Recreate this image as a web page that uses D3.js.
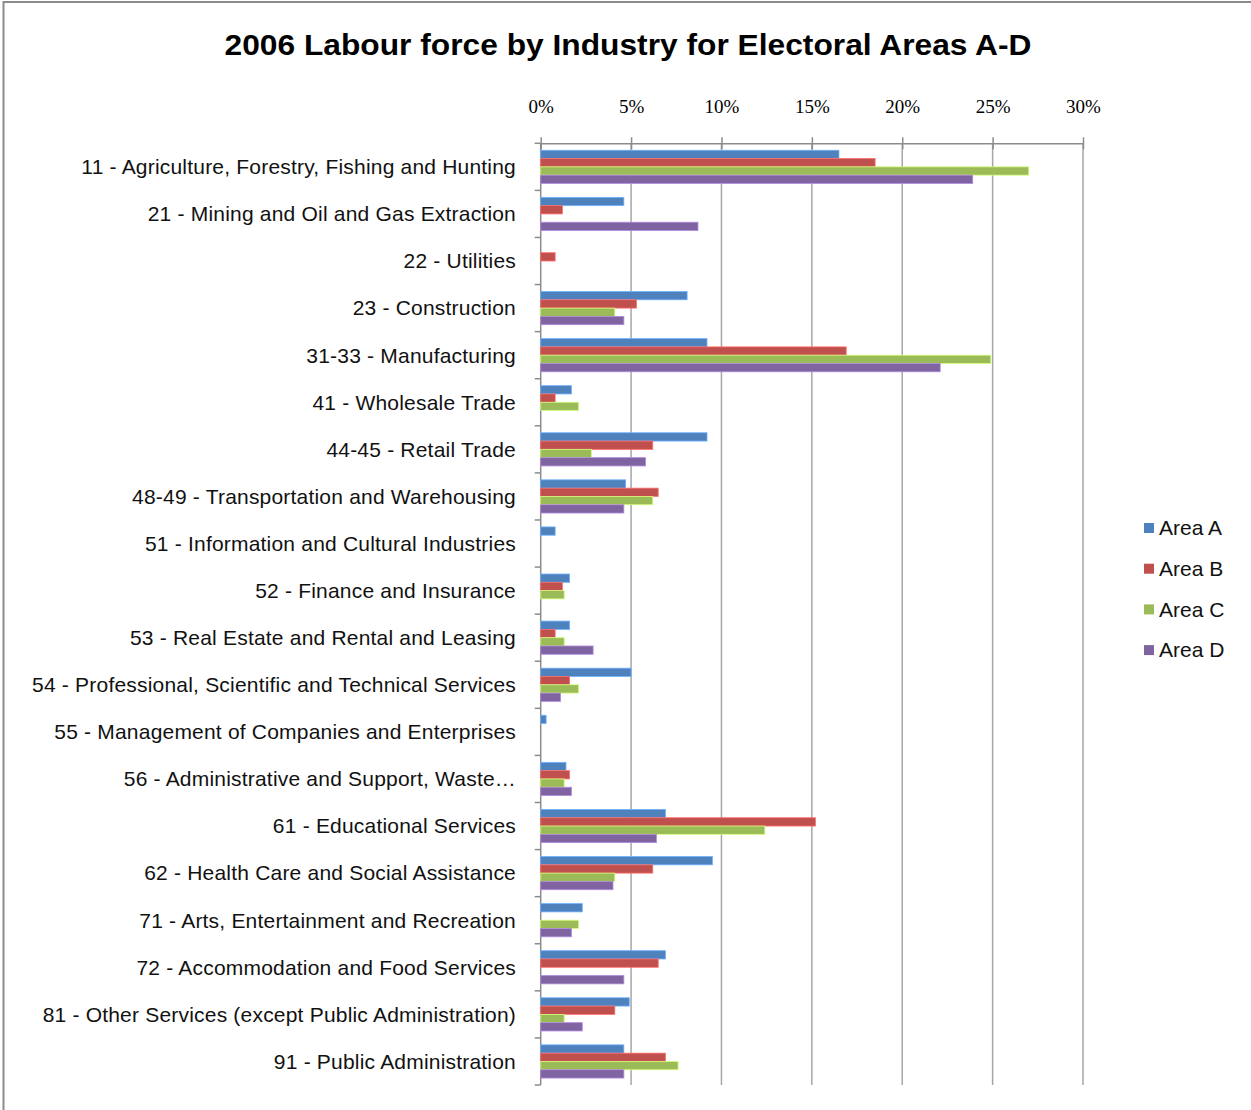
<!DOCTYPE html>
<html>
<head>
<meta charset="utf-8">
<script src="https://cdn.jsdelivr.net/npm/d3@7"></script>
<style>
  body { margin: 0; background: #fff; }
  svg { display: block; }
</style>
</head>
<body>
<div id="chart"></div>
<script>
// industries, top to bottom
const industries = [
    '11 - Agriculture, Forestry, Fishing and Hunting',
    '21 - Mining and Oil and Gas Extraction',
    '22 - Utilities',
    '23 - Construction',
    '31-33 - Manufacturing',
    '41 - Wholesale Trade',
    '44-45 - Retail Trade',
    '48-49 - Transportation and Warehousing',
    '51 - Information and Cultural Industries',
    '52 - Finance and Insurance',
    '53 - Real Estate and Rental and Leasing',
    '54 - Professional, Scientific and Technical Services',
    '55 - Management of Companies and Enterprises',
    '56 - Administrative and Support, Waste…',
    '61 - Educational Services',
    '62 - Health Care and Social Assistance',
    '71 - Arts, Entertainment and Recreation',
    '72 - Accommodation and Food Services',
    '81 - Other Services (except Public Administration)',
    '91 - Public Administration'
];

const seriesNames = ['Area A', 'Area B', 'Area C', 'Area D'];

// percent of labour force
const areaA = [16.5, 4.6, 0, 8.1, 9.2, 1.7, 9.2, 4.7, 0.8, 1.6, 1.6, 5.0, 0.3, 1.4, 6.9, 9.5, 2.3, 6.9, 4.9, 4.6];
const areaB = [18.5, 1.2, 0.8, 5.3, 16.9, 0.8, 6.2, 6.5, 0, 1.2, 0.8, 1.6, 0, 1.6, 15.2, 6.2, 0, 6.5, 4.1, 6.9];
const areaC = [27.0, 0, 0, 4.1, 24.9, 2.1, 2.8, 6.2, 0, 1.3, 1.3, 2.1, 0, 1.3, 12.4, 4.1, 2.1, 0, 1.3, 7.6];
const areaD = [23.9, 8.7, 0, 4.6, 22.1, 0, 5.8, 4.6, 0, 0, 2.9, 1.1, 0, 1.7, 6.4, 4.0, 1.7, 4.6, 2.3, 4.6];

const tickValues = [0, 5, 10, 15, 20, 25, 30];
const colors = ['#4F81BD', '#C0504D', '#9BBB59', '#8064A2'];

const allSeries = [areaA, areaB, areaC, areaD];

const W = 1251, H = 1110;
const plot = { left: 540.7, right: 1083, top: 143.3, bottom: 1085 };

const svg = d3.select('#chart').append('svg')
    .attr('width', W)
    .attr('height', H);

// outer frame (only top and left edges show in the picture)
svg.append('rect')
    .attr('x', 3.5).attr('y', 2)
    .attr('width', W + 10).attr('height', H + 10)
    .attr('fill', 'none')
    .attr('stroke', '#8c8c8c')
    .attr('stroke-width', 2);

svg.append('text')
    .attr('x', 628)
    .attr('y', 55)
    .attr('text-anchor', 'middle')
    .style('font-family', '"Liberation Sans", Arial, sans-serif')
    .style('font-weight', 'bold')
    .style('font-size', '29px')
    .attr('textLength', 807)
    .attr('lengthAdjust', 'spacingAndGlyphs')
    .text('2006 Labour force by Industry for Electoral Areas A-D');

let x = d3.scaleLinear()
    .domain([0, 30])
    .range([plot.left, plot.right]);

let y0 = d3.scaleBand()
    .domain(industries)
    .range([plot.top, plot.bottom])
    .paddingInner(0.295)
    .paddingOuter(0.1475);

let y1 = d3.scaleBand()
    .domain(seriesNames)
    .range([0, y0.bandwidth()]);

// vertical gridlines
svg.append('g')
    .selectAll('line')
    .data(tickValues.slice(1))
    .enter().append('line')
    .attr('x1', d => x(d)).attr('x2', d => x(d))
    .attr('y1', plot.top).attr('y2', plot.bottom)
    .attr('stroke', '#a6a6a6')
    .attr('stroke-width', 1.5);

// value axis on top
let xAxis = d3.axisTop(x)
    .tickValues(tickValues)
    .tickFormat(d => d + '%')
    .tickSizeInner(6)
    .tickSizeOuter(0);

let gx = svg.append('g')
    .attr('transform', `translate(0,${plot.top})`)
    .call(xAxis);
gx.select('.domain').attr('stroke', '#8c8c8c').attr('stroke-width', 1.5);
gx.selectAll('.tick line')
    .attr('stroke', '#8c8c8c')
    .attr('stroke-width', 1.5)
    .attr('y1', 6)
    .attr('y2', -6);
gx.selectAll('.tick text')
    .attr('y', -30)
    .style('font-family', '"Liberation Serif", "DejaVu Serif", serif')
    .style('font-size', '19px')
    .attr('fill', '#000');

// category axis
svg.append('line')
    .attr('x1', plot.left).attr('x2', plot.left)
    .attr('y1', plot.top).attr('y2', plot.bottom)
    .attr('stroke', '#8c8c8c')
    .attr('stroke-width', 1.5);

let step = y0.step();
svg.append('g')
    .selectAll('line')
    .data(d3.range(industries.length + 1))
    .enter().append('line')
    .attr('x1', plot.left - 6).attr('x2', plot.left)
    .attr('y1', i => plot.top + i * step)
    .attr('y2', i => plot.top + i * step)
    .attr('stroke', '#8c8c8c')
    .attr('stroke-width', 1.5);

svg.append('g')
    .selectAll('text')
    .data(industries)
    .enter().append('text')
    .attr('x', 516)
    .attr('y', d => y0(d) + y0.bandwidth() / 2)
    .attr('dy', '0.35em')
    .attr('text-anchor', 'end')
    .style('font-family', '"Liberation Sans", Arial, sans-serif')
    .style('font-size', '21px')
    .style('letter-spacing', '0.2px')
    .attr('fill', '#111')
    .text(d => d);

// bars
let groups = svg.append('g')
    .selectAll('g')
    .data(industries)
    .enter().append('g')
    .attr('transform', d => `translate(0,${y0(d)})`);

groups.selectAll('rect')
    .data((d, i) => seriesNames.map((s, j) => ({ series: s, idx: j, value: allSeries[j][i] })))
    .enter().filter(d => d.value > 0)
    .append('rect')
    .attr('x', x(0))
    .attr('y', d => y1(d.series))
    .attr('width', d => x(d.value) - x(0))
    .attr('height', y1.bandwidth())
    .attr('fill', d => colors[d.idx])
    .attr('stroke', d => d3.color(colors[d.idx]).brighter(0.9))
    .attr('stroke-width', 0.8);

// legend
let legend = svg.append('g')
    .selectAll('g')
    .data(seriesNames)
    .enter().append('g')
    .attr('transform', (d, i) => `translate(1144,${528 + i * 40.7})`);

legend.append('rect')
    .attr('x', 0).attr('y', -5)
    .attr('width', 10).attr('height', 10)
    .attr('fill', (d, i) => colors[i]);

legend.append('text')
    .attr('x', 15)
    .attr('y', 0)
    .attr('dy', '0.35em')
    .style('font-family', '"Liberation Sans", Arial, sans-serif')
    .style('font-size', '21px')
    .attr('fill', '#111')
    .text(d => d);
</script>
</body>
</html>
